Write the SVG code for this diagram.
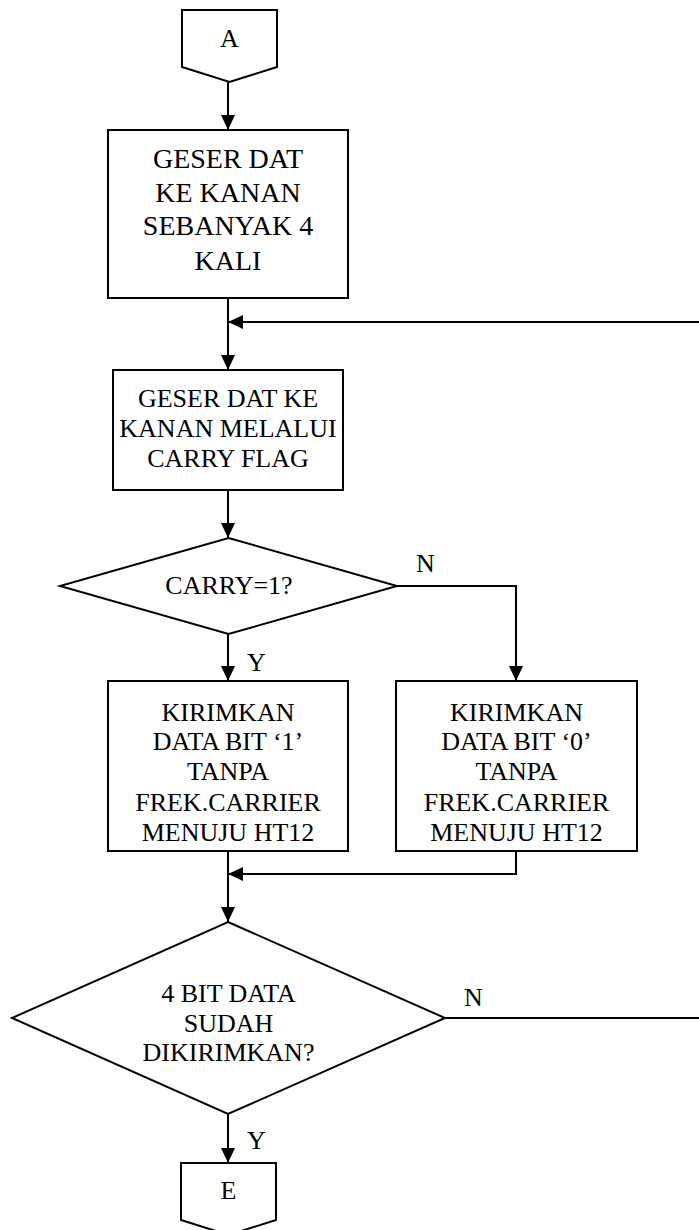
<svg xmlns="http://www.w3.org/2000/svg" width="699" height="1230" viewBox="0 0 699 1230">
<defs>
<marker id="arr" markerUnits="userSpaceOnUse" markerWidth="16" markerHeight="14" refX="15" refY="7" orient="auto">
<path d="M0,0 L15,7 L0,14 Z" fill="#000"/>
</marker>
<style>
.s{fill:#fff;stroke:#000;stroke-width:2}
.c{fill:none;stroke:#000;stroke-width:2}
.t{font-family:"Liberation Serif","Times New Roman",serif;font-size:26px;fill:#000;text-anchor:middle}
.b{font-size:28px}
.l{font-family:"Liberation Serif","Times New Roman",serif;font-size:26px;fill:#000}
</style>
</defs>
<rect width="699" height="1230" fill="#fff"/>
<g id="connectors">
<path class="c" d="M228,82 V130" marker-end="url(#arr)"/>
<path class="c" d="M228,298 V370" marker-end="url(#arr)"/>
<path class="c" d="M699,322 H228" marker-end="url(#arr)"/>
<path class="c" d="M228,490 V538" marker-end="url(#arr)"/>
<path class="c" d="M228,634 V681" marker-end="url(#arr)"/>
<path class="c" d="M397,586 H516 V681" marker-end="url(#arr)"/>
<path class="c" d="M228,851 V922" marker-end="url(#arr)"/>
<path class="c" d="M516,851 V874 H228" marker-end="url(#arr)"/>
<path class="c" d="M445,1018 H699"/>
<path class="c" d="M228,1114 V1163" marker-end="url(#arr)"/>
<text class="l" x="416" y="572">N</text>
<text class="l" x="247" y="671">Y</text>
<text class="l" x="464" y="1006">N</text>
<text class="l" x="247" y="1149">Y</text>
</g>
<g id="startA">
<polygon class="s" points="182,10 277,10 277,67 229.5,82 182,67"/>
<text class="t" x="229.5" y="47">A</text>
</g>
<g id="box1">
<rect class="s" x="108" y="130" width="240" height="168"/>
<text class="t b" x="228" y="168">GESER DAT</text>
<text class="t b" x="228" y="202">KE KANAN</text>
<text class="t b" x="228" y="235">SEBANYAK 4</text>
<text class="t b" x="228" y="270">KALI</text>
</g>
<g id="box2">
<rect class="s" x="113" y="370" width="230" height="120"/>
<text class="t" x="228" y="407">GESER DAT KE</text>
<text class="t" x="228" y="437">KANAN MELALUI</text>
<text class="t" x="228" y="467">CARRY FLAG</text>
</g>
<g id="dec1">
<polygon class="s" points="228.5,538 397,586 228.5,634 60,586"/>
<text class="t" x="229" y="594">CARRY=1?</text>
</g>
<g id="box3">
<rect class="s" x="108" y="681" width="240" height="170"/>
<text class="t" x="228" y="721">KIRIMKAN</text>
<text class="t" x="228" y="750">DATA BIT ‘1’</text>
<text class="t" x="228" y="780">TANPA</text>
<text class="t" x="228" y="811">FREK.CARRIER</text>
<text class="t" x="228" y="841">MENUJU HT12</text>
</g>
<g id="box4">
<rect class="s" x="396" y="681" width="241" height="170"/>
<text class="t" x="516.5" y="721">KIRIMKAN</text>
<text class="t" x="516.5" y="750">DATA BIT ‘0’</text>
<text class="t" x="516.5" y="780">TANPA</text>
<text class="t" x="516.5" y="811">FREK.CARRIER</text>
<text class="t" x="516.5" y="841">MENUJU HT12</text>
</g>
<g id="dec2">
<polygon class="s" points="228,922 445,1018 228,1114 12,1018"/>
<text class="t" x="228.5" y="1002">4 BIT DATA</text>
<text class="t" x="228.5" y="1032">SUDAH</text>
<text class="t" x="228.5" y="1061">DIKIRIMKAN?</text>
</g>
<g id="endE">
<polygon class="s" points="181,1163 276,1163 276,1220 228.5,1235 181,1220"/>
<text class="t" x="228.5" y="1199">E</text>
</g>
</svg>
